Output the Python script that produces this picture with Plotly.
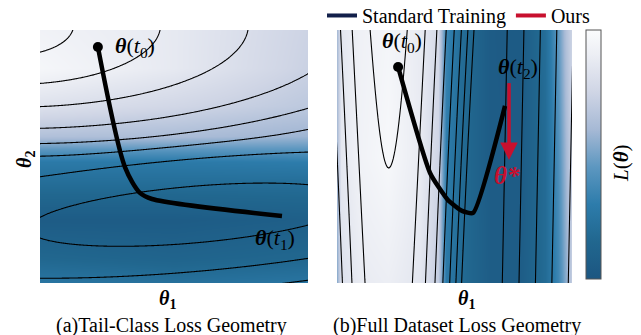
import numpy as np
import plotly.graph_objects as go

# ---------------- data ----------------
# trajectory points (panel coordinates in [0,1])
left_traj_u = [0.216, 0.317, 0.373, 0.418, 0.903]
left_traj_v = [0.933, 0.458, 0.356, 0.332, 0.265]
right_traj_u = [0.260, 0.396, 0.472, 0.532, 0.579, 0.715]
right_traj_v = [0.854, 0.435, 0.328, 0.285, 0.277, 0.700]
ours_u = [0.732, 0.732]
ours_v = [0.790, 0.520]

# contour levels of each illustrative loss surface
left_levels = [-0.698, -0.595, -0.52, -0.47, -0.41, -0.325, -0.235, -0.12]
right_levels = [0, 1, 2, 3, 4, 5, 6, 7]

# background shading knots (0 = dark blue, 1 = white)
left_bg_u = [0.0, 0.5, 1.0]
left_bg_v = [0.0, 0.1, 0.25, 0.4, 0.48, 0.52, 0.58, 0.7, 0.85, 1.0]
left_bg_z = [
    [0.25, 0.22, 0.25],
    [0.15, 0.12, 0.15],
    [0.05, 0.05, 0.08],
    [0.20, 0.20, 0.20],
    [0.28, 0.28, 0.30],
    [0.42, 0.42, 0.42],
    [0.64, 0.62, 0.58],
    [0.82, 0.76, 0.68],
    [0.96, 0.87, 0.73],
    [0.93, 0.87, 0.74],
]
right_bg_u = [0.0, 0.017, 0.098, 0.217, 0.353, 0.43, 0.464, 0.523, 0.651, 0.779, 0.885, 0.94, 0.974, 1.0]
right_bg_v = [0.0, 0.5, 1.0]
right_bg_z = [
    [0.55, 0.82, 0.88, 0.90, 0.85, 0.70, 0.28, 0.18, 0.06, 0.06, 0.18, 0.35, 0.55, 0.72],
    [0.62, 0.86, 0.93, 0.97, 0.88, 0.75, 0.30, 0.18, 0.05, 0.05, 0.18, 0.40, 0.60, 0.75],
    [0.62, 0.85, 0.92, 0.95, 0.88, 0.78, 0.35, 0.20, 0.05, 0.04, 0.20, 0.45, 0.65, 0.75],
]

colorscale = [
    [0.0, '#1c5681'], [0.15, '#21678f'], [0.3, '#2d7cab'], [0.45, '#5d97c0'],
    [0.6, '#a6b9d5'], [0.75, '#cfd5e5'], [0.9, '#eceef4'], [1.0, '#fbfcfd'],
]

# ---------------- illustrative surfaces ----------------
g = np.linspace(-0.03, 1.03, 265)
U, V = np.meshgrid(g, g)


def hill_distance(u, v):
    du = u + 0.1
    dv = v - 1.02
    d = np.sqrt((du / 2.8) ** 2 + dv ** 2)
    for _ in range(30):
        aspect = 1.4 + 4.0 * d
        d = 0.5 * d + 0.5 * np.sqrt((du / aspect) ** 2 + dv ** 2)
    return d


def left_loss(u, v):
    d_hill = hill_distance(u, v)
    centre = 0.27 + 0.09 * (u - 0.57)
    r = np.sqrt(((u - 0.57) / 0.6) ** 2 + ((v - centre) / 0.11) ** 2)
    z_bowl = -0.8 + 0.1 * r
    w = 1.0 / (1.0 + np.exp((r - 2.3) / 0.15))
    w = np.where(v < centre, 1.0, w)
    return w * z_bowl + (1 - w) * (-d_hill)


def right_loss(u, v):
    peak = 7 + 0.64 * (v - 0.455)
    k = 55.9 * (1 + 0.25 * (1 - v))
    hill = peak - k * (u - 0.22) ** 2
    wall = 14.3 * (u - 0.715) - 0.3 * (v - 0.5)
    floor = -0.7 * np.ones_like(u)
    b = 4.0
    return np.log(np.exp(b * hill) + np.exp(b * wall) + np.exp(b * floor)) / b


ZL = left_loss(U, V)
ZR = right_loss(U, V)

fig = go.Figure()

# backgrounds
fig.add_trace(go.Heatmap(x=left_bg_u, y=left_bg_v, z=left_bg_z, zsmooth='best',
                         colorscale=colorscale, zmin=0, zmax=1, showscale=False,
                         showlegend=False, hoverinfo='skip', xaxis='x', yaxis='y'))
fig.add_trace(go.Heatmap(x=right_bg_u, y=right_bg_v, z=right_bg_z, zsmooth='best',
                         colorscale=colorscale, zmin=0, zmax=1, showscale=True,
                         showlegend=False,
                         colorbar=dict(thickness=15, len=249, lenmode='pixels',
                                       xref='paper', yref='paper',
                                       x=586 / 641, xanchor='left', xpad=0, ypad=0,
                                       y=(335 - 30) / 335, yanchor='top',
                                       outlinecolor='#555555', outlinewidth=1,
                                       showticklabels=False, ticks=''),
                         hoverinfo='skip', xaxis='x2', yaxis='y2'))

# contour lines
for lv in left_levels:
    fig.add_trace(go.Contour(x=g, y=g, z=ZL, showscale=False, showlegend=False, hoverinfo='skip',
                             contours=dict(start=lv, end=lv, size=1, coloring='none'),
                             line=dict(color='black', width=1.1), xaxis='x', yaxis='y'))
for lv in right_levels:
    fig.add_trace(go.Contour(x=g, y=g, z=ZR, showscale=False, showlegend=False, hoverinfo='skip',
                             contours=dict(start=lv, end=lv, size=1, coloring='none'),
                             line=dict(color='black', width=1.1), xaxis='x2', yaxis='y2'))

# trajectories
fig.add_trace(go.Scatter(x=left_traj_u, y=left_traj_v, mode='lines', showlegend=False,
                         line=dict(color='black', width=4.5, shape='spline', smoothing=0.8),
                         xaxis='x', yaxis='y', hoverinfo='skip'))
fig.add_trace(go.Scatter(x=left_traj_u[:1], y=left_traj_v[:1], mode='markers', showlegend=False,
                         marker=dict(color='black', size=10), xaxis='x', yaxis='y'))
fig.add_trace(go.Scatter(x=right_traj_u, y=right_traj_v, mode='lines', showlegend=False,
                         line=dict(color='black', width=4.5, shape='spline', smoothing=0.5),
                         xaxis='x2', yaxis='y2', hoverinfo='skip'))
fig.add_trace(go.Scatter(x=right_traj_u[:1], y=right_traj_v[:1], mode='markers', showlegend=False,
                         marker=dict(color='black', size=10), xaxis='x2', yaxis='y2'))
fig.add_trace(go.Scatter(x=ours_u, y=ours_v, mode='lines', showlegend=False,
                         line=dict(color='#c8102e', width=3.5),
                         xaxis='x2', yaxis='y2', hoverinfo='skip'))
# legend entries
fig.add_trace(go.Scatter(x=[None], y=[None], mode='lines', name='Standard Training',
                         line=dict(color='#12204a', width=4), xaxis='x2', yaxis='y2'))
fig.add_trace(go.Scatter(x=[None], y=[None], mode='lines', name='Ours',
                         line=dict(color='#c8102e', width=4), xaxis='x2', yaxis='y2'))

SERIF = 'Liberation Serif'
ann = []


def lab(text, x, y, xref='x', yref='y', size=22, color='black', angle=0):
    ann.append(dict(text=text, x=x, y=y, xref=xref, yref=yref, showarrow=False,
                    font=dict(family=SERIF, size=size, color=color), textangle=angle,
                    xanchor='center', yanchor='middle'))


T0 = '<b><i>θ</i></b>(<i>t</i><sub>0</sub>)'
lab(T0, 0.354, 0.933)
lab('<b><i>θ</i></b>(<i>t</i><sub>1</sub>)', 0.877, 0.174)
lab(T0, 0.277, 0.953, 'x2', 'y2')
lab('<b><i>θ</i></b>(<i>t</i><sub>2</sub>)', 0.77, 0.85, 'x2', 'y2')
lab('<b><i>θ*</i></b>', 0.723, 0.425, 'x2', 'y2', size=25, color='#c8102e')
lab('<b><i>θ</i><sub>1</sub></b>', 167 / 641, (335 - 299) / 335, 'paper', 'paper', size=20)
lab('<b><i>θ</i><sub>1</sub></b>', 466 / 641, (335 - 299) / 335, 'paper', 'paper', size=20)
lab('<b><i>θ</i><sub>2</sub></b>', 25 / 641, (335 - 160) / 335, 'paper', 'paper', size=20, angle=-90)
lab('(a)Tail-Class Loss Geometry', 171 / 641, (335 - 325) / 335, 'paper', 'paper', size=20)
lab('(b)Full Dataset Loss Geometry', 457 / 641, (335 - 325) / 335, 'paper', 'paper', size=20)
lab('<i>L</i>(<b><i>θ</i></b>)', 621 / 641, (335 - 163) / 335, 'paper', 'paper', size=21, angle=-90)

# arrow head of "Ours"
ann.append(dict(x=0.732, y=0.486, ax=0.732, ay=0.56, xref='x2', yref='y2', axref='x2', ayref='y2',
                showarrow=True, arrowhead=2, arrowsize=1.0, arrowwidth=3.5, arrowcolor='#c8102e', text=''))

ax_common = dict(range=[0, 1], visible=False, fixedrange=True)
fig.update_layout(
    width=641, height=335, margin=dict(l=0, r=0, t=0, b=0, autoexpand=False),
    paper_bgcolor='white', plot_bgcolor='white',
    font=dict(family=SERIF, color='black'),
    xaxis=dict(domain=[40 / 641, 308 / 641], anchor='y', **ax_common),
    yaxis=dict(domain=[52 / 335, 305 / 335], anchor='x', **ax_common),
    xaxis2=dict(domain=[337 / 641, 572 / 641], anchor='y2', **ax_common),
    yaxis2=dict(domain=[52 / 335, 305 / 335], anchor='x2', **ax_common),
    legend=dict(orientation='h', x=322 / 641, y=1.012, xanchor='left', yanchor='top',
                font=dict(family=SERIF, size=20), bgcolor='rgba(0,0,0,0)',
                itemwidth=30, tracegroupgap=0),
    annotations=ann,
)

fig.write_html('out.html', config={'displayModeBar': False},
               post_script="document.body.style.margin='0px';document.body.style.overflow='hidden';")
